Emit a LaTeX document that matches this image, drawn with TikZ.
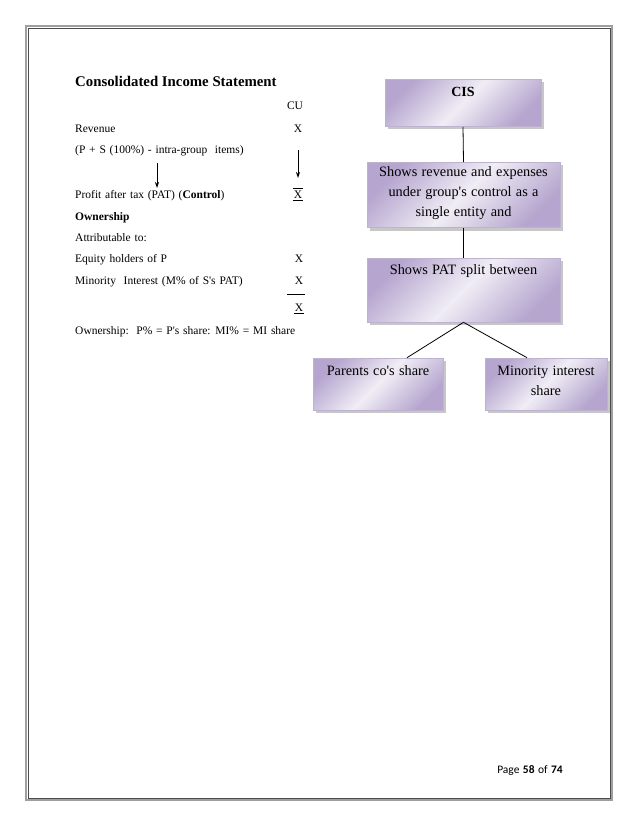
\documentclass[tikz,border=0pt]{standalone}
\usepackage{fontspec}
\setmainfont{Liberation Serif}
\newfontfamily\footfont{Carlito}
\usetikzlibrary{arrows.meta,shadows,calc}
\definecolor{boxedge}{HTML}{BDB3CF}
\definecolor{boxdark}{HTML}{B6A6CF}
\definecolor{boxlight}{HTML}{F0EDF5}
\newcommand{\rowfnt}{\fontsize{11.5}{13}\selectfont\spaceskip=0.33em plus 0.1em\relax}
\newcommand{\boxfnt}{\fontsize{14.3}{20}\selectfont\spaceskip=0.3em plus 0.1em\relax}
\newcommand{\footfnt}{\footfont\fontsize{11.5}{13}\selectfont\spaceskip=0.3em\relax}
\begin{document}
\begin{tikzpicture}[x=1pt,y=-1pt,
  rowtext/.style={anchor=base west,inner sep=0pt,font=\rowfnt},
  coltext/.style={anchor=base,inner sep=0pt,font=\rowfnt},
  flowbox/.style={draw=boxedge,line width=0.6pt,minimum width=#1,
    left color=boxdark,right color=boxdark,middle color=boxlight,shading angle=45,
    drop shadow={shadow xshift=3pt,shadow yshift=-3pt,fill=gray!55,opacity=0.8},
    inner sep=0pt},
  boxtext/.style={anchor=north,inner sep=0pt,align=center,font=\boxfnt},
  link/.style={draw=black,line width=0.8pt},
  downarrow/.style={draw=black,line width=0.8pt,-{Stealth[length=6pt,width=4pt]}}
]
\useasboundingbox (0,0) rectangle (638,826);
% page border
\draw[gray!75,line width=2.5pt] (26,26) rectangle (612,800);
\draw[black!70,line width=0.5pt] (27.8,27.8) rectangle (610.5,798.5);

% left column
\node[anchor=base west,inner sep=0pt,font=\bfseries\fontsize{14.8}{16}\selectfont] (title) at (75,87) {Consolidated Income Statement};
\node[coltext] (cu) at (295,110) {CU};
\node[rowtext] (rev) at (75,133) {Revenue};
\node[coltext] (xrev) at (298,133) {X};
\node[rowtext] (ps) at (75,154) {(P + S (100\%) - intra-group\ \ items)};
\node[rowtext] (pat) at (75,199) {Profit after tax (PAT) (\textbf{Control})};
\node[coltext] (xpat) at (298,199) {X};
\draw[link,line width=0.6pt] ($(xpat.north west)+(-1,-3)$) coordinate (olA) -- ($(xpat.north east)+(1,-3)$) coordinate (olB);
\draw[link,line width=0.6pt] ($(xpat.base west)+(-0.5,1.8)$) coordinate (ulA) -- ($(xpat.base east)+(0.5,1.8)$) coordinate (ulB);
\node[rowtext,font=\rowfnt\bfseries] (own) at (75,220) {Ownership};
\node[rowtext] (attr) at (75,241) {Attributable to:};
\node[rowtext] (eq) at (75,262) {Equity holders of P};
\node[coltext] (xeq) at (299,262) {X};
\node[rowtext] (mi) at (75,284) {Minority\ \ Interest (M\% of S\textquotesingle s PAT)};
\node[coltext] (xmi) at (299,284) {X};
\coordinate (sumA) at (287,294);
\coordinate (sumB) at (305,294);
\draw[link,line width=0.6pt] (sumA) -- (sumB);
\node[coltext] (xtot) at (299,311) {X};
\draw[link,line width=0.6pt] ($(xtot.base west)+(-0.5,1.8)$) coordinate (ul2A) -- ($(xtot.base east)+(0.5,1.8)$) coordinate (ul2B);
\node[rowtext] (ownp) at (75,334) {Ownership:\ \ P\% = P\textquotesingle s share: MI\% = MI share};

% arrows in the statement
\coordinate (la1) at (157,163);
\coordinate (la2) at (157,188);
\draw[downarrow] (la1) -- (la2);
\coordinate (ra1) at (298,150);
\coordinate (ra2) at (298,178);
\draw[downarrow] (ra1) -- (ra2);

% right column chart
\node[flowbox=156pt,minimum height=47pt] (cis) at (463,103) {};
\node[boxtext,font=\bfseries\fontsize{14}{16}\selectfont] (cist) at ($(cis.north)+(0,8)$) {CIS};
\node[flowbox=193pt,minimum height=65pt] (rev2) at (463.5,195) {};
\node[boxtext] (rev2t) at ($(rev2.north)+(0,4)$) {Shows revenue and expenses\\under group\textquotesingle s control as a\\single entity and};
\node[flowbox=193pt,minimum height=64pt] (pat2) at (463.5,290) {};
\node[boxtext] (pat2t) at ($(pat2.north)+(0,7)$) {Shows PAT split between};
\node[flowbox=130pt,minimum height=52pt] (par) at (378,384) {};
\node[boxtext] (part) at ($(par.north)+(0,8)$) {Parents co\textquotesingle s share};
\node[flowbox=122pt,minimum height=52pt] (min) at (546,384) {};
\node[boxtext] (mint) at ($(min.north)+(0,8)$) {Minority interest\\share};

\draw[link] (cis.south) -- (rev2.north);
\draw[link] (rev2.south) -- (pat2.north);
\draw[link] (pat2.south) -- ($(par.north)+(29,0)$);
\draw[link] (pat2.south) -- ($(min.north)+(-19,0)$);

% footer
\node[anchor=base,inner sep=0pt,font=\footfnt] (foot) at (530,773) {Page \textbf{58} of \textbf{74}};
\end{tikzpicture}
\end{document}
